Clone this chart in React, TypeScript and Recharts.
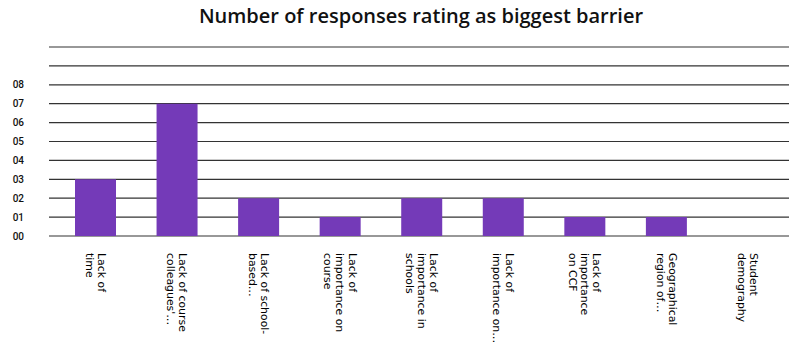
import { BarChart, Bar, XAxis, YAxis, CartesianGrid } from "recharts";

// wrapped + truncated category labels as they appear on the axis
const categories: string[][] = [
  ["Lack of", "time"],
  ["Lack of course", "colleagues'…"],
  ["Lack of school-", "based…"],
  ["Lack of", "importance on", "course"],
  ["Lack of", "importance in", "schools"],
  ["Lack of", "importance on…"],
  ["Lack of", "importance", "on CCF"],
  ["Geographical", "region of…"],
  ["Student", "demography"],
];
const responses = [3, 7, 2, 1, 2, 2, 1, 1, 0];
const yTicks = [0, 1, 2, 3, 4, 5, 6, 7, 8, 9, 10];
const yLabelMax = 8;

const data = categories.map((lines, i) => ({
  key: String(i),
  lines,
  value: responses[i],
}));

const LINE_H = 12.2;

// eslint-disable-next-line @typescript-eslint/no-explicit-any
const CategoryTick = ({ x, y, payload }: any) => {
  const lines = categories[Number(payload.value)] ?? [];
  const n = lines.length;
  return (
    <g transform={`translate(${x},${y + 9}) rotate(90)`}>
      <text
        fontFamily="DejaVu Sans, sans-serif"
        fontSize={10.9}
        fill="#000"
        textAnchor="start"
      >
        {lines.map((l, i) => (
          <tspan key={i} x={0} y={-((n - 1) * LINE_H) / 2 + i * LINE_H + 4}>
            {l}
          </tspan>
        ))}
      </text>
    </g>
  );
};

export default function App() {
  return (
    <div
      style={{
        position: "absolute",
        left: 0,
        top: 0,
        width: 789,
        height: 343,
        background: "#fff",
      }}
    >
      <div
        style={{
          position: "absolute",
          left: 0,
          width: 842,
          top: 2,
          textAlign: "center",
          fontFamily: "'Open Sans', sans-serif",
          fontSize: 20,
          fontWeight: 600,
          color: "#111",
          lineHeight: "28px",
        }}
      >
        Number of responses rating as biggest barrier
      </div>
      <BarChart
        width={789}
        height={343}
        data={data}
        margin={{ top: 47, right: 0, bottom: 0, left: 0 }}
      >
        <CartesianGrid
          horizontal
          vertical={false}
          stroke="#333"
          strokeWidth={1.2}
        />
        <XAxis
          dataKey="key"
          interval={0}
          height={107}
          axisLine={false}
          tickLine={false}
          padding={{ left: 6, right: 0 }}
          tick={<CategoryTick />}
        />
        <YAxis
          domain={[0, 10]}
          ticks={yTicks}
          interval={0}
          width={49}
          axisLine={false}
          tickLine={false}
          tickMargin={19}
          tickFormatter={(v: number) =>
            v > yLabelMax ? "" : String(v).padStart(2, "0")
          }
          tick={{
            fontSize: 10,
            fontFamily: "Roboto, sans-serif",
            fontWeight: 500,
            fill: "#111",
            textAnchor: "end",
          }}
        />
        <Bar
          dataKey="value"
          fill="#743ab8"
          barSize={41}
          isAnimationActive={false}
        />
      </BarChart>
    </div>
  );
}
